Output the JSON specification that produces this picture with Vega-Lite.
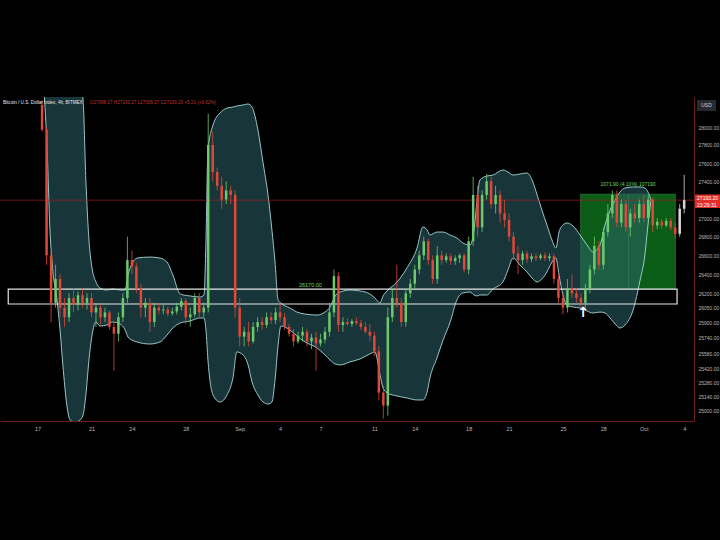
{
"$schema":"https://vega.github.io/schema/vega-lite/v6.json",
"width":694,"height":324,
"autosize":{"type":"none"},
"padding":{"left":0,"top":97,"right":26,"bottom":119},
"background":"#000000",
"config":{"view":{"stroke":null},"axis":{"labelFont":"Liberation Sans"},"text":{"font":"Liberation Sans"}},
"datasets":{
"candles":[
{"t":"2023-08-17T08:00","o":28250,"h":28300,"l":27950,"c":27970},
{"t":"2023-08-17T16:00","o":27970,"h":28000,"l":26500,"c":26600},
{"t":"2023-08-18T00:00","o":26600,"h":26650,"l":25900,"c":26100},
{"t":"2023-08-18T08:00","o":26100,"h":26500,"l":26050,"c":26350},
{"t":"2023-08-18T16:00","o":26350,"h":26400,"l":25950,"c":26050},
{"t":"2023-08-19T00:00","o":26050,"h":26150,"l":25850,"c":25950},
{"t":"2023-08-19T08:00","o":25950,"h":26200,"l":25900,"c":26150},
{"t":"2023-08-19T16:00","o":26150,"h":26250,"l":26000,"c":26080},
{"t":"2023-08-20T00:00","o":26080,"h":26220,"l":26020,"c":26180},
{"t":"2023-08-20T08:00","o":26180,"h":26250,"l":26050,"c":26100},
{"t":"2023-08-20T16:00","o":26100,"h":26200,"l":26030,"c":26150},
{"t":"2023-08-21T00:00","o":26150,"h":26200,"l":25950,"c":26000},
{"t":"2023-08-21T08:00","o":26000,"h":26100,"l":25850,"c":26050},
{"t":"2023-08-21T16:00","o":26050,"h":26080,"l":25880,"c":25950},
{"t":"2023-08-22T00:00","o":25950,"h":26050,"l":25900,"c":26000},
{"t":"2023-08-22T08:00","o":26000,"h":26020,"l":25820,"c":25850},
{"t":"2023-08-22T16:00","o":25850,"h":25900,"l":25400,"c":25780},
{"t":"2023-08-23T00:00","o":25780,"h":26000,"l":25700,"c":25950},
{"t":"2023-08-23T08:00","o":25950,"h":26200,"l":25900,"c":26150},
{"t":"2023-08-23T16:00","o":26150,"h":26800,"l":26100,"c":26550},
{"t":"2023-08-24T00:00","o":26550,"h":26650,"l":26400,"c":26480},
{"t":"2023-08-24T08:00","o":26480,"h":26520,"l":26200,"c":26250},
{"t":"2023-08-24T16:00","o":26250,"h":26300,"l":25950,"c":26050},
{"t":"2023-08-25T00:00","o":26050,"h":26150,"l":25950,"c":26100},
{"t":"2023-08-25T08:00","o":26100,"h":26150,"l":25800,"c":25900},
{"t":"2023-08-25T16:00","o":25900,"h":26100,"l":25850,"c":26050},
{"t":"2023-08-26T00:00","o":26050,"h":26100,"l":25980,"c":26020},
{"t":"2023-08-26T08:00","o":26020,"h":26080,"l":25980,"c":26030},
{"t":"2023-08-26T16:00","o":26030,"h":26060,"l":25960,"c":25990},
{"t":"2023-08-27T00:00","o":25990,"h":26050,"l":25970,"c":26010},
{"t":"2023-08-27T08:00","o":26010,"h":26100,"l":25980,"c":26060},
{"t":"2023-08-27T16:00","o":26060,"h":26150,"l":26020,"c":26120},
{"t":"2023-08-28T00:00","o":26120,"h":26150,"l":25880,"c":25950},
{"t":"2023-08-28T08:00","o":25950,"h":26050,"l":25850,"c":25980},
{"t":"2023-08-28T16:00","o":25980,"h":26200,"l":25950,"c":26150},
{"t":"2023-08-29T00:00","o":26150,"h":26200,"l":25950,"c":26000},
{"t":"2023-08-29T08:00","o":26000,"h":26100,"l":25950,"c":26050},
{"t":"2023-08-29T16:00","o":26050,"h":28150,"l":26000,"c":27800},
{"t":"2023-08-30T00:00","o":27800,"h":27950,"l":27400,"c":27500},
{"t":"2023-08-30T08:00","o":27500,"h":27550,"l":27300,"c":27350},
{"t":"2023-08-30T16:00","o":27350,"h":27450,"l":27100,"c":27200},
{"t":"2023-08-31T00:00","o":27200,"h":27400,"l":27150,"c":27300},
{"t":"2023-08-31T08:00","o":27300,"h":27350,"l":27150,"c":27250},
{"t":"2023-08-31T16:00","o":27250,"h":27300,"l":25950,"c":26050},
{"t":"2023-09-01T00:00","o":26050,"h":26150,"l":25650,"c":25750},
{"t":"2023-09-01T08:00","o":25750,"h":25850,"l":25650,"c":25800},
{"t":"2023-09-01T16:00","o":25800,"h":25900,"l":25650,"c":25700},
{"t":"2023-09-02T00:00","o":25700,"h":25900,"l":25680,"c":25850},
{"t":"2023-09-02T08:00","o":25850,"h":25950,"l":25800,"c":25900},
{"t":"2023-09-02T16:00","o":25900,"h":25950,"l":25820,"c":25870},
{"t":"2023-09-03T00:00","o":25870,"h":26000,"l":25840,"c":25950},
{"t":"2023-09-03T08:00","o":25950,"h":26000,"l":25880,"c":25920},
{"t":"2023-09-03T16:00","o":25920,"h":26050,"l":25880,"c":26000},
{"t":"2023-09-04T00:00","o":26000,"h":26100,"l":25900,"c":25950},
{"t":"2023-09-04T08:00","o":25950,"h":25990,"l":25820,"c":25850},
{"t":"2023-09-04T16:00","o":25850,"h":25880,"l":25750,"c":25780},
{"t":"2023-09-05T00:00","o":25780,"h":25830,"l":25650,"c":25700},
{"t":"2023-09-05T08:00","o":25700,"h":25800,"l":25680,"c":25760},
{"t":"2023-09-05T16:00","o":25760,"h":25850,"l":25700,"c":25800},
{"t":"2023-09-06T00:00","o":25800,"h":25830,"l":25650,"c":25700},
{"t":"2023-09-06T08:00","o":25700,"h":25780,"l":25620,"c":25740},
{"t":"2023-09-06T16:00","o":25740,"h":25800,"l":25400,"c":25680},
{"t":"2023-09-07T00:00","o":25680,"h":25780,"l":25650,"c":25720},
{"t":"2023-09-07T08:00","o":25720,"h":25850,"l":25680,"c":25800},
{"t":"2023-09-07T16:00","o":25800,"h":26100,"l":25750,"c":26000},
{"t":"2023-09-08T00:00","o":26000,"h":26450,"l":25950,"c":26380},
{"t":"2023-09-08T08:00","o":26380,"h":26420,"l":25800,"c":25870},
{"t":"2023-09-08T16:00","o":25870,"h":25950,"l":25800,"c":25900},
{"t":"2023-09-09T00:00","o":25900,"h":25940,"l":25860,"c":25880},
{"t":"2023-09-09T08:00","o":25880,"h":25930,"l":25850,"c":25910},
{"t":"2023-09-09T16:00","o":25910,"h":25950,"l":25870,"c":25890},
{"t":"2023-09-10T00:00","o":25890,"h":25920,"l":25820,"c":25850},
{"t":"2023-09-10T08:00","o":25850,"h":25900,"l":25780,"c":25800},
{"t":"2023-09-10T16:00","o":25800,"h":25880,"l":25700,"c":25760},
{"t":"2023-09-11T00:00","o":25760,"h":25800,"l":25550,"c":25600},
{"t":"2023-09-11T08:00","o":25600,"h":25650,"l":25100,"c":25180},
{"t":"2023-09-11T16:00","o":25180,"h":25250,"l":24920,"c":25050},
{"t":"2023-09-12T00:00","o":25050,"h":26050,"l":24950,"c":25950},
{"t":"2023-09-12T08:00","o":25950,"h":26250,"l":25900,"c":26150},
{"t":"2023-09-12T16:00","o":26150,"h":26500,"l":26050,"c":26100},
{"t":"2023-09-13T00:00","o":26100,"h":26150,"l":25850,"c":25900},
{"t":"2023-09-13T08:00","o":25900,"h":26250,"l":25850,"c":26200},
{"t":"2023-09-13T16:00","o":26200,"h":26350,"l":26150,"c":26300},
{"t":"2023-09-14T00:00","o":26300,"h":26500,"l":26250,"c":26450},
{"t":"2023-09-14T08:00","o":26450,"h":26650,"l":26400,"c":26600},
{"t":"2023-09-14T16:00","o":26600,"h":26800,"l":26550,"c":26750},
{"t":"2023-09-15T00:00","o":26750,"h":26780,"l":26500,"c":26550},
{"t":"2023-09-15T08:00","o":26550,"h":26600,"l":26300,"c":26350},
{"t":"2023-09-15T16:00","o":26350,"h":26700,"l":26300,"c":26600},
{"t":"2023-09-16T00:00","o":26600,"h":26650,"l":26500,"c":26550},
{"t":"2023-09-16T08:00","o":26550,"h":26620,"l":26520,"c":26590},
{"t":"2023-09-16T16:00","o":26590,"h":26620,"l":26500,"c":26540},
{"t":"2023-09-17T00:00","o":26540,"h":26600,"l":26500,"c":26570},
{"t":"2023-09-17T08:00","o":26570,"h":26620,"l":26520,"c":26600},
{"t":"2023-09-17T16:00","o":26600,"h":26620,"l":26420,"c":26450},
{"t":"2023-09-18T00:00","o":26450,"h":26800,"l":26400,"c":26750},
{"t":"2023-09-18T08:00","o":26750,"h":27450,"l":26700,"c":27250},
{"t":"2023-09-18T16:00","o":27250,"h":27350,"l":26800,"c":26900},
{"t":"2023-09-19T00:00","o":26900,"h":27300,"l":26850,"c":27250},
{"t":"2023-09-19T08:00","o":27250,"h":27480,"l":27200,"c":27400},
{"t":"2023-09-19T16:00","o":27400,"h":27450,"l":27100,"c":27150},
{"t":"2023-09-20T00:00","o":27150,"h":27350,"l":27050,"c":27250},
{"t":"2023-09-20T08:00","o":27250,"h":27300,"l":26950,"c":27050},
{"t":"2023-09-20T16:00","o":27050,"h":27200,"l":26900,"c":26980},
{"t":"2023-09-21T00:00","o":26980,"h":27050,"l":26750,"c":26800},
{"t":"2023-09-21T08:00","o":26800,"h":26850,"l":26550,"c":26620},
{"t":"2023-09-21T16:00","o":26620,"h":26700,"l":26400,"c":26550},
{"t":"2023-09-22T00:00","o":26550,"h":26650,"l":26500,"c":26620},
{"t":"2023-09-22T08:00","o":26620,"h":26650,"l":26520,"c":26560},
{"t":"2023-09-22T16:00","o":26560,"h":26620,"l":26530,"c":26590},
{"t":"2023-09-23T00:00","o":26590,"h":26620,"l":26540,"c":26570},
{"t":"2023-09-23T08:00","o":26570,"h":26620,"l":26550,"c":26600},
{"t":"2023-09-23T16:00","o":26600,"h":26630,"l":26540,"c":26570},
{"t":"2023-09-24T00:00","o":26570,"h":26620,"l":26540,"c":26590},
{"t":"2023-09-24T08:00","o":26590,"h":26620,"l":26300,"c":26350},
{"t":"2023-09-24T16:00","o":26350,"h":26400,"l":26100,"c":26150},
{"t":"2023-09-25T00:00","o":26150,"h":26200,"l":25980,"c":26050},
{"t":"2023-09-25T08:00","o":26050,"h":26350,"l":26000,"c":26250},
{"t":"2023-09-25T16:00","o":26250,"h":26400,"l":26150,"c":26200},
{"t":"2023-09-26T00:00","o":26200,"h":26250,"l":26100,"c":26150},
{"t":"2023-09-26T08:00","o":26150,"h":26200,"l":26050,"c":26100},
{"t":"2023-09-26T16:00","o":26100,"h":26300,"l":26050,"c":26250},
{"t":"2023-09-27T00:00","o":26250,"h":26500,"l":26200,"c":26450},
{"t":"2023-09-27T08:00","o":26450,"h":26800,"l":26400,"c":26700},
{"t":"2023-09-27T16:00","o":26700,"h":26750,"l":26450,"c":26500},
{"t":"2023-09-28T00:00","o":26500,"h":26900,"l":26450,"c":26850},
{"t":"2023-09-28T08:00","o":26850,"h":27150,"l":26800,"c":27050},
{"t":"2023-09-28T16:00","o":27050,"h":27300,"l":27000,"c":27250},
{"t":"2023-09-29T00:00","o":27250,"h":27300,"l":26900,"c":26950},
{"t":"2023-09-29T08:00","o":26950,"h":27200,"l":26900,"c":27150},
{"t":"2023-09-29T16:00","o":27150,"h":27200,"l":26850,"c":26900},
{"t":"2023-09-30T00:00","o":26900,"h":27100,"l":26800,"c":27050},
{"t":"2023-09-30T08:00","o":27050,"h":27150,"l":26950,"c":27000},
{"t":"2023-09-30T16:00","o":27000,"h":27200,"l":26950,"c":27150},
{"t":"2023-10-01T00:00","o":27150,"h":27250,"l":26950,"c":27000},
{"t":"2023-10-01T08:00","o":27000,"h":27250,"l":26950,"c":27200},
{"t":"2023-10-01T16:00","o":27200,"h":27220,"l":26850,"c":26920},
{"t":"2023-10-02T00:00","o":26920,"h":27000,"l":26880,"c":26960},
{"t":"2023-10-02T08:00","o":26960,"h":26990,"l":26880,"c":26920},
{"t":"2023-10-02T16:00","o":26920,"h":27000,"l":26900,"c":26970},
{"t":"2023-10-03T00:00","o":26970,"h":27000,"l":26870,"c":26900},
{"t":"2023-10-03T08:00","o":26900,"h":26950,"l":26780,"c":26830},
{"t":"2023-10-03T16:00","o":26830,"h":27150,"l":26800,"c":27100},
{"t":"2023-10-04T00:00","o":27100,"h":27470,"l":27050,"c":27193.2}
],
"band":[
{"t":"2023-08-17T11:00","u":28500,"lo":28450},
{"t":"2023-08-17T17:00","u":28500,"lo":27744},
{"t":"2023-08-17T22:00","u":28500,"lo":26871},
{"t":"2023-08-18T03:00","u":28500,"lo":26445},
{"t":"2023-08-18T10:30","u":28500,"lo":26130},
{"t":"2023-08-18T16:00","u":28500,"lo":25818},
{"t":"2023-08-18T21:00","u":28500,"lo":25460},
{"t":"2023-08-19T04:00","u":28500,"lo":25056},
{"t":"2023-08-19T10:00","u":28500,"lo":24906},
{"t":"2023-08-19T19:00","u":28500,"lo":24886},
{"t":"2023-08-20T03:30","u":28500,"lo":24906},
{"t":"2023-08-20T09:00","u":28304,"lo":24956},
{"t":"2023-08-20T14:00","u":27413,"lo":25157},
{"t":"2023-08-20T19:30","u":26763,"lo":25511},
{"t":"2023-08-21T01:00","u":26466,"lo":25766},
{"t":"2023-08-21T08:00","u":26318,"lo":25900},
{"t":"2023-08-21T15:00","u":26255,"lo":25859},
{"t":"2023-08-22T03:30","u":26234,"lo":25870},
{"t":"2023-08-22T14:00","u":26245,"lo":25900},
{"t":"2023-08-23T03:00","u":26234,"lo":25880},
{"t":"2023-08-23T12:00","u":26234,"lo":25818},
{"t":"2023-08-23T17:00","u":26392,"lo":25746},
{"t":"2023-08-24T00:00","u":26508,"lo":25715},
{"t":"2023-08-24T09:00","u":26571,"lo":25695},
{"t":"2023-08-25T08:00","u":26582,"lo":25674},
{"t":"2023-08-26T02:00","u":26571,"lo":25695},
{"t":"2023-08-26T14:30","u":26529,"lo":25766},
{"t":"2023-08-27T01:00","u":26392,"lo":25839},
{"t":"2023-08-27T14:00","u":26193,"lo":25890},
{"t":"2023-08-28T07:30","u":26172,"lo":25911},
{"t":"2023-08-29T01:00","u":26161,"lo":25942},
{"t":"2023-08-29T08:30","u":26182,"lo":25942},
{"t":"2023-08-29T12:00","u":26763,"lo":25818},
{"t":"2023-08-29T15:30","u":27744,"lo":25511},
{"t":"2023-08-30T00:30","u":28023,"lo":25157},
{"t":"2023-08-30T13:00","u":28157,"lo":25086},
{"t":"2023-08-31T01:30","u":28213,"lo":25157},
{"t":"2023-08-31T12:00","u":28224,"lo":25328},
{"t":"2023-08-31T19:00","u":28236,"lo":25593},
{"t":"2023-09-01T06:00","u":28248,"lo":25562},
{"t":"2023-09-01T15:00","u":28259,"lo":25460},
{"t":"2023-09-01T22:00","u":28224,"lo":25288},
{"t":"2023-09-02T08:30","u":27967,"lo":25157},
{"t":"2023-09-02T17:30","u":27611,"lo":25086},
{"t":"2023-09-03T02:30","u":27250,"lo":25066},
{"t":"2023-09-03T09:30","u":26871,"lo":25086},
{"t":"2023-09-03T15:00","u":26529,"lo":25308},
{"t":"2023-09-03T20:30","u":26130,"lo":25664},
{"t":"2023-09-04T01:30","u":26098,"lo":25859},
{"t":"2023-09-04T17:30","u":26046,"lo":25818},
{"t":"2023-09-05T06:00","u":26004,"lo":25756},
{"t":"2023-09-05T20:30","u":25983,"lo":25695},
{"t":"2023-09-06T18:00","u":25973,"lo":25633},
{"t":"2023-09-07T08:00","u":26004,"lo":25562},
{"t":"2023-09-07T17:00","u":26056,"lo":25511},
{"t":"2023-09-08T02:00","u":26172,"lo":25470},
{"t":"2023-09-08T11:00","u":26213,"lo":25460},
{"t":"2023-09-09T04:30","u":26234,"lo":25491},
{"t":"2023-09-09T22:30","u":26224,"lo":25521},
{"t":"2023-09-10T16:00","u":26193,"lo":25572},
{"t":"2023-09-11T01:00","u":26151,"lo":25593},
{"t":"2023-09-11T10:00","u":26098,"lo":25359},
{"t":"2023-09-11T15:30","u":26172,"lo":25227},
{"t":"2023-09-11T22:30","u":26224,"lo":25177},
{"t":"2023-09-12T16:30","u":26318,"lo":25146},
{"t":"2023-09-13T10:00","u":26466,"lo":25126},
{"t":"2023-09-14T04:00","u":26678,"lo":25106},
{"t":"2023-09-14T14:30","u":26903,"lo":25106},
{"t":"2023-09-14T22:00","u":26871,"lo":25187},
{"t":"2023-09-15T03:00","u":26817,"lo":25328},
{"t":"2023-09-15T15:30","u":26849,"lo":25531},
{"t":"2023-09-16T02:30","u":26849,"lo":25715},
{"t":"2023-09-16T15:00","u":26817,"lo":25900},
{"t":"2023-09-17T03:00","u":26785,"lo":26130},
{"t":"2023-09-17T14:00","u":26731,"lo":26203},
{"t":"2023-09-18T02:30","u":26710,"lo":26213},
{"t":"2023-09-18T09:30","u":26871,"lo":26182},
{"t":"2023-09-18T15:00","u":27195,"lo":26172},
{"t":"2023-09-18T20:00","u":27413,"lo":26182},
{"t":"2023-09-19T08:30","u":27457,"lo":26182},
{"t":"2023-09-19T19:30","u":27468,"lo":26245},
{"t":"2023-09-20T13:00","u":27523,"lo":26318},
{"t":"2023-09-20T22:00","u":27501,"lo":26445},
{"t":"2023-09-21T07:00","u":27468,"lo":26571},
{"t":"2023-09-21T19:30","u":27479,"lo":26497},
{"t":"2023-09-22T08:00","u":27490,"lo":26424},
{"t":"2023-09-22T17:00","u":27413,"lo":26360},
{"t":"2023-09-23T02:00","u":27250,"lo":26318},
{"t":"2023-09-23T10:30","u":27086,"lo":26350},
{"t":"2023-09-23T19:30","u":26925,"lo":26424},
{"t":"2023-09-24T04:30","u":26763,"lo":26529},
{"t":"2023-09-24T11:30","u":26678,"lo":26571},
{"t":"2023-09-24T17:00","u":26849,"lo":26392},
{"t":"2023-09-25T00:00","u":26925,"lo":26182},
{"t":"2023-09-25T07:00","u":26946,"lo":26077},
{"t":"2023-09-25T18:00","u":26914,"lo":26056},
{"t":"2023-09-26T06:30","u":26817,"lo":26046},
{"t":"2023-09-26T19:00","u":26710,"lo":26014},
{"t":"2023-09-27T05:30","u":26635,"lo":25994},
{"t":"2023-09-27T18:00","u":26710,"lo":26004},
{"t":"2023-09-28T03:00","u":26925,"lo":25994},
{"t":"2023-09-28T12:00","u":27086,"lo":25942},
{"t":"2023-09-28T21:00","u":27195,"lo":25880},
{"t":"2023-09-29T05:30","u":27282,"lo":25839},
{"t":"2023-09-29T14:30","u":27326,"lo":25870},
{"t":"2023-09-30T05:00","u":27337,"lo":26025},
{"t":"2023-09-30T17:30","u":27337,"lo":26339},
{"t":"2023-10-01T02:00","u":27326,"lo":26603},
{"t":"2023-10-01T07:30","u":27282,"lo":26925},
{"t":"2023-10-01T13:00","u":27195,"lo":27195}
]
},
"layer":[
{
"data":{"values":[{"t1":"2023-09-26T07:40","t2":"2023-10-03T08:10","p1":26244,"p2":27258}]},
"mark":{"type":"rect","fill":"#0b5c17","stroke":"#2a7a34","strokeWidth":0.8},
"encoding":{
"x":{"field":"t1","type":"temporal","scale":{"padding":0,"nice":false,"domain":[{"year":2023,"month":8,"date":14,"hours":5},{"year":2023,"month":10,"date":4,"hours":17,"minutes":30}]},
"axis":{"title":null,"grid":false,"ticks":false,"domainColor":"#6b2020","labelColor":"#b8b8b8","labelFontSize":5.5,"labelPadding":5,
"values":[{"year":2023,"month":8,"date":17},{"year":2023,"month":8,"date":21},{"year":2023,"month":8,"date":24},{"year":2023,"month":8,"date":28},{"year":2023,"month":9,"date":1},{"year":2023,"month":9,"date":4},{"year":2023,"month":9,"date":7},{"year":2023,"month":9,"date":11},{"year":2023,"month":9,"date":14},{"year":2023,"month":9,"date":18},{"year":2023,"month":9,"date":21},{"year":2023,"month":9,"date":25},{"year":2023,"month":9,"date":28},{"year":2023,"month":10,"date":1},{"year":2023,"month":10,"date":4}],
"labelExpr":"date(datum.value) == 1 ? timeFormat(datum.value, '%b') : timeFormat(datum.value, '%-d')"}},
"x2":{"field":"t2"},
"y":{"field":"p1","type":"quantitative","scale":{"type":"log","domain":[24896,28338],"nice":false,"zero":false},
"axis":{"orient":"right","title":null,"grid":false,"ticks":false,"domainColor":"#6b2020","labelColor":"#b8b8b8","labelFontSize":5,"labelPadding":4,"format":".2f",
"values":[28000,27800,27600,27400,27000,26800,26600,26400,26200,26050,25900,25740,25580,25420,25280,25140,25000]}},
"y2":{"field":"p2"}
}
},
{
"data":{"values":[{"t":"2023-09-29T20:40","p1":26244,"p2":27258}]},
"mark":{"type":"rule","stroke":"#6fc46f","strokeWidth":0.6,"opacity":0.7},
"encoding":{"x":{"field":"t","type":"temporal"},"y":{"field":"p1","type":"quantitative"},"y2":{"field":"p2"}}
},
{
"data":{"name":"band"},
"mark":{"type":"area","interpolate":"monotone","fill":"#2b6268","fillOpacity":0.55,"clip":true},
"encoding":{"x":{"field":"t","type":"temporal"},"y":{"field":"u","type":"quantitative"},"y2":{"field":"lo"}}
},
{
"data":{"name":"band"},
"mark":{"type":"line","interpolate":"monotone","stroke":"#a8d8d8","strokeWidth":0.9,"clip":true},
"encoding":{"x":{"field":"t","type":"temporal"},"y":{"field":"u","type":"quantitative"}}
},
{
"data":{"name":"band"},
"mark":{"type":"line","interpolate":"monotone","stroke":"#a8d8d8","strokeWidth":0.9,"clip":true},
"encoding":{"x":{"field":"t","type":"temporal"},"y":{"field":"lo","type":"quantitative"}}
},
{
"data":{"values":[{"t1":"2023-08-14T19:40","t2":"2023-10-03T11:20","p1":26088,"p2":26244}]},
"mark":{"type":"rect","fillOpacity":0,"stroke":"#e6e6e6","strokeWidth":1.2},
"encoding":{"x":{"field":"t1","type":"temporal"},"x2":{"field":"t2"},"y":{"field":"p1","type":"quantitative"},"y2":{"field":"p2"}}
},
{
"data":{"values":[{"p":27193.2}]},
"mark":{"type":"rule","stroke":"#a02020","strokeWidth":0.7},
"encoding":{"y":{"field":"p","type":"quantitative"}}
},
{
"data":{"name":"candles"},
"mark":{"type":"rule","strokeWidth":0.8},
"encoding":{"x":{"field":"t","type":"temporal"},"y":{"field":"l","type":"quantitative"},"y2":{"field":"h"},
"color":{"condition":[{"test":"time(datum.t) >= datetime(2023,9,3,16)","value":"#d8d8d8"},{"test":"datum.c >= datum.o","value":"#6cc96c"}],"value":"#e0483a"}}
},
{
"data":{"name":"candles"},
"mark":{"type":"bar","size":2.5},
"encoding":{"x":{"field":"t","type":"temporal"},"y":{"field":"o","type":"quantitative"},"y2":{"field":"c"},
"color":{"condition":[{"test":"time(datum.t) >= datetime(2023,9,3,16)","value":"#d8d8d8"},{"test":"datum.c >= datum.o","value":"#6cc96c"}],"value":"#e0483a"}}
},
{
"data":{"values":[{"t":"2023-09-06T06:00","p":26287,"s":"26170.00"}]},
"mark":{"type":"text","color":"#6fdc5c","fontSize":5.5,"align":"center","baseline":"middle"},
"encoding":{"x":{"field":"t","type":"temporal"},"y":{"field":"p","type":"quantitative"},"text":{"field":"s"}}
},
{
"data":{"values":[{"t":"2023-09-29T20:00","p":27370,"s":"1071.90 (4.10%) 107190"}]},
"mark":{"type":"text","color":"#6fdc5c","fontSize":5,"align":"center","baseline":"middle"},
"encoding":{"x":{"field":"t","type":"temporal"},"y":{"field":"p","type":"quantitative"},"text":{"field":"s"}}
},
{
"data":{"values":[{"t":"2023-09-26T11:45","p":25994,"s":"↑"}]},
"mark":{"type":"text","color":"#ffffff","fontSize":14,"fontWeight":"bold","font":"DejaVu Sans","align":"center","baseline":"middle"},
"encoding":{"x":{"field":"t","type":"temporal"},"y":{"field":"p","type":"quantitative"},"text":{"field":"s"}}
},
{
"data":{"values":[{"t":"2023-08-14T05:00","p":28270,"s":"Bitcoin / U.S. Dollar Index, 4h, BITMEX"}]},
"mark":{"type":"text","color":"#e8e8e8","fontSize":4.6,"align":"left","baseline":"middle","dx":3},
"encoding":{"x":{"field":"t","type":"temporal"},"y":{"field":"p","type":"quantitative"},"text":{"field":"s"}}
},
{
"data":{"values":[{"t":"2023-08-20T21:00","p":28270,"s":"O27088.27  H27193.27  L27056.27  C27193.20  +5.21 (+0.02%)"}]},
"mark":{"type":"text","color":"#c0302e","fontSize":4.6,"align":"left","baseline":"middle"},
"encoding":{"x":{"field":"t","type":"temporal"},"y":{"field":"p","type":"quantitative"},"text":{"field":"s"}}
},
{
"data":{"values":[{"t1":"2023-10-04T22:50","t2":"2023-10-06T08:40","p1":28304,"p2":28180}]},
"mark":{"type":"rect","fill":"#262a33"},
"encoding":{"x":{"field":"t1","type":"temporal"},"x2":{"field":"t2"},"y":{"field":"p1","type":"quantitative"},"y2":{"field":"p2"}}
},
{
"data":{"values":[{"t":"2023-10-05T15:45","p":28242,"s":"USD"}]},
"mark":{"type":"text","color":"#d0d0d0","fontSize":5,"align":"center","baseline":"middle"},
"encoding":{"x":{"field":"t","type":"temporal"},"y":{"field":"p","type":"quantitative"},"text":{"field":"s"}}
},
{
"data":{"values":[{"t1":"2023-10-04T19:25","t2":"2023-10-06T16:00","p1":27255,"p2":27108}]},
"mark":{"type":"rect","fill":"#e0302a"},
"encoding":{"x":{"field":"t1","type":"temporal"},"x2":{"field":"t2"},"y":{"field":"p1","type":"quantitative"},"y2":{"field":"p2"}}
},
{
"data":{"values":[{"t":"2023-10-04T23:00","p":27218,"s":"27193.20"},{"t":"2023-10-04T23:00","p":27145,"s":"23:29:31"}]},
"mark":{"type":"text","color":"#ffffff","fontSize":5,"align":"left","baseline":"middle"},
"encoding":{"x":{"field":"t","type":"temporal"},"y":{"field":"p","type":"quantitative"},"text":{"field":"s"}}
}
]
}
